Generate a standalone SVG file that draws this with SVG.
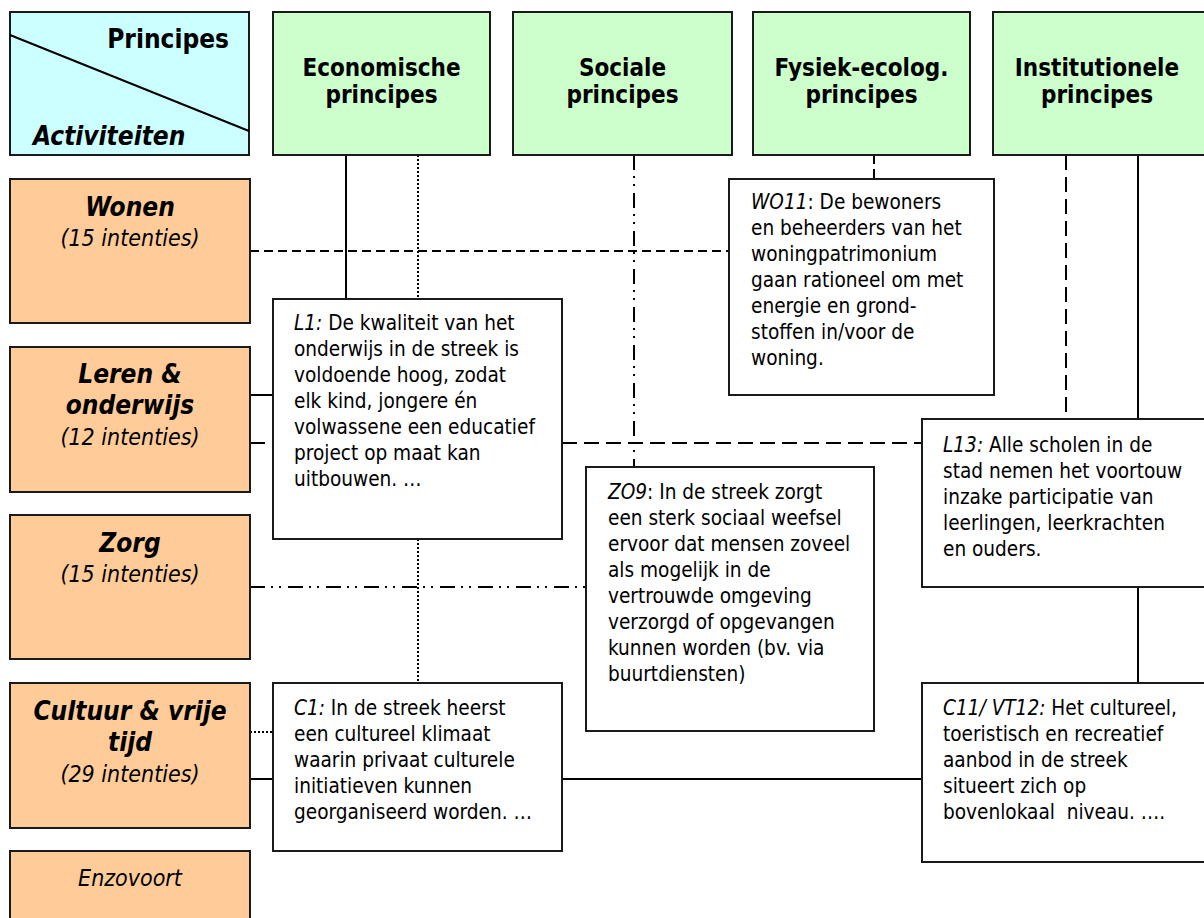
<svg xmlns="http://www.w3.org/2000/svg" width="1204" height="918" viewBox="0 0 1204 918">
<style>
.box{stroke:#1a1a1a;stroke-width:2}
.corner{fill:#ccffff}
.hdr{fill:#ccffcc}
.act{fill:#ffcc99}
.txt{fill:#ffffff}
text{font-family:"DejaVu Sans Condensed","DejaVu Sans",sans-serif;fill:#000}
.h{font-size:24px;font-weight:bold;text-anchor:middle}
.hc{font-size:26px;font-weight:bold}
.a{font-size:26px;font-weight:bold;font-style:italic;text-anchor:middle}
.ai{font-size:23px;font-style:italic;text-anchor:middle}
.b{font-size:20.6px}
.i{font-style:italic}
.ln{fill:none;stroke:#000;stroke-width:2}
.dot{stroke-dasharray:2 2}
.dash{stroke-dasharray:9 5}
.ldash{stroke-dasharray:15 7}
.ddd{stroke-dasharray:15 6 2 6 2 7}
</style>
<rect width="1204" height="918" fill="#ffffff"/>
<g id="connectors">
<path class="ln" d="M346 155V299"/>
<path class="ln dot" d="M418 155V299M418 539V683"/>
<path class="ln ddd" d="M634 155V467"/>
<path class="ln dash" d="M874 155V179"/>
<path class="ln ldash" d="M1066 155V419"/>
<path class="ln" d="M1138 155V419M1138 587V683"/>
<path class="ln dash" d="M250 251H729"/>
<path class="ln" d="M250 395H273"/>
<path class="ln ldash" d="M250 443H273M562 443H922"/>
<path class="ln ddd" d="M250 587H586"/>
<path class="ln dot" d="M250 732H273"/>
<path class="ln" d="M250 779H273M562 779H922"/>
</g>
<g id="corner">
<rect class="box corner" x="10" y="12" width="239" height="143"/>
<path class="ln" d="M10 35L249 131"/>
<text class="hc" x="229" y="48" text-anchor="end">Principes</text>
<text class="hc i" x="33" y="145">Activiteiten</text>
</g>
<g id="economische">
<rect class="box hdr" x="273" y="12" width="217" height="143"/>
<text class="h" x="381.5" y="76">Economische</text>
<text class="h" x="381.5" y="103">principes</text>
</g>
<g id="sociale">
<rect class="box hdr" x="513" y="12" width="219" height="143"/>
<text class="h" x="622.5" y="76">Sociale</text>
<text class="h" x="622.5" y="103">principes</text>
</g>
<g id="fysiek">
<rect class="box hdr" x="753" y="12" width="217" height="143"/>
<text class="h" x="861.5" y="76">Fysiek-ecolog.</text>
<text class="h" x="861.5" y="103">principes</text>
</g>
<g id="institutionele">
<rect class="box hdr" x="993" y="12" width="230" height="143"/>
<text class="h" x="1097" y="76">Institutionele</text>
<text class="h" x="1097" y="103">principes</text>
</g>
<g id="wonen">
<rect class="box act" x="10" y="179" width="240" height="144"/>
<text class="a" x="130" y="216">Wonen</text>
<text class="ai" x="130" y="246">(15 intenties)</text>
</g>
<g id="leren">
<rect class="box act" x="10" y="347" width="240" height="145"/>
<text class="a" x="130" y="383">Leren &amp;</text>
<text class="a" x="130" y="414">onderwijs</text>
<text class="ai" x="130" y="445">(12 intenties)</text>
</g>
<g id="zorg">
<rect class="box act" x="10" y="515" width="240" height="144"/>
<text class="a" x="130" y="552">Zorg</text>
<text class="ai" x="130" y="582">(15 intenties)</text>
</g>
<g id="cultuur">
<rect class="box act" x="10" y="683" width="240" height="145"/>
<text class="a" x="130" y="720">Cultuur &amp; vrije</text>
<text class="a" x="130" y="751">tijd</text>
<text class="ai" x="130" y="782">(29 intenties)</text>
</g>
<g id="enzovoort">
<rect class="box act" x="10" y="851" width="240" height="80"/>
<text class="ai" x="130" y="886">Enzovoort</text>
</g>
<g id="wo11">
<rect class="box txt" x="729" y="179" width="265" height="216"/>
<text class="b" x="751" y="209"><tspan class="i">WO11</tspan>: De bewoners<tspan x="751" dy="26">en beheerders van het</tspan><tspan x="751" dy="26">woningpatrimonium</tspan><tspan x="751" dy="26">gaan rationeel om met</tspan><tspan x="751" dy="26">energie en grond-</tspan><tspan x="751" dy="26">stoffen in/voor de</tspan><tspan x="751" dy="26">woning.</tspan></text>
</g>
<g id="l1">
<rect class="box txt" x="273" y="299" width="289" height="240"/>
<text class="b" x="294" y="330"><tspan class="i">L1:</tspan> De kwaliteit van het<tspan x="294" dy="26">onderwijs in de streek is</tspan><tspan x="294" dy="26">voldoende hoog, zodat</tspan><tspan x="294" dy="26">elk kind, jongere én</tspan><tspan x="294" dy="26">volwassene een educatief</tspan><tspan x="294" dy="26">project op maat kan</tspan><tspan x="294" dy="26">uitbouwen. …</tspan></text>
</g>
<g id="zo9">
<rect class="box txt" x="586" y="467" width="288" height="264"/>
<text class="b" x="608" y="499"><tspan class="i">ZO9</tspan>: In de streek zorgt<tspan x="608" dy="26">een sterk sociaal weefsel</tspan><tspan x="608" dy="26">ervoor dat mensen zoveel</tspan><tspan x="608" dy="26">als mogelijk in de</tspan><tspan x="608" dy="26">vertrouwde omgeving</tspan><tspan x="608" dy="26">verzorgd of opgevangen</tspan><tspan x="608" dy="26">kunnen worden (bv. via</tspan><tspan x="608" dy="26">buurtdiensten)</tspan></text>
</g>
<g id="l13">
<rect class="box txt" x="922" y="419" width="300" height="168"/>
<text class="b" x="943" y="452"><tspan class="i">L13:</tspan> Alle scholen in de<tspan x="943" dy="26">stad nemen het voortouw</tspan><tspan x="943" dy="26">inzake participatie van</tspan><tspan x="943" dy="26">leerlingen, leerkrachten</tspan><tspan x="943" dy="26">en ouders.</tspan></text>
</g>
<g id="c1">
<rect class="box txt" x="273" y="683" width="289" height="168"/>
<text class="b" x="294" y="715"><tspan class="i">C1:</tspan> In de streek heerst<tspan x="294" dy="26">een cultureel klimaat</tspan><tspan x="294" dy="26">waarin privaat culturele</tspan><tspan x="294" dy="26">initiatieven kunnen</tspan><tspan x="294" dy="26">georganiseerd worden. …</tspan></text>
</g>
<g id="c11">
<rect class="box txt" x="922" y="683" width="300" height="179"/>
<text class="b" x="943" y="715"><tspan class="i">C11/ VT12:</tspan> Het cultureel,<tspan x="943" dy="26">toeristisch en recreatief</tspan><tspan x="943" dy="26">aanbod in de streek</tspan><tspan x="943" dy="26">situeert zich op</tspan><tspan x="943" dy="26">bovenlokaal&#160; niveau. ….</tspan></text>
</g>
</svg>
